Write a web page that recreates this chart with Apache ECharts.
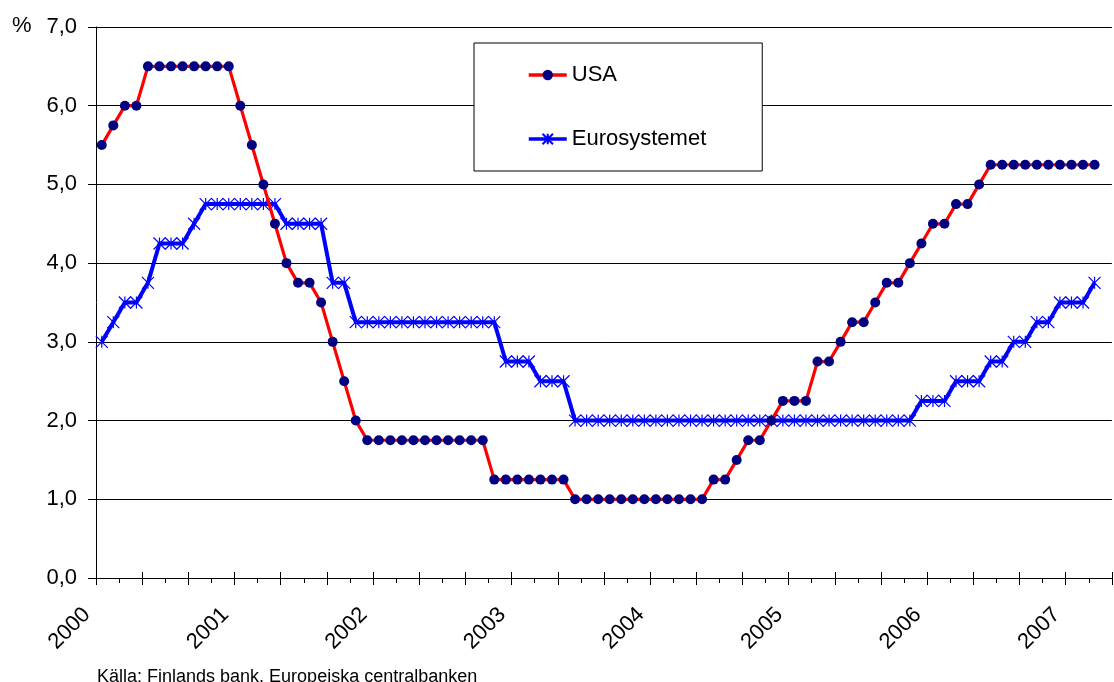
<!DOCTYPE html>
<html>
<head>
<meta charset="utf-8">
<script src="https://cdn.jsdelivr.net/npm/echarts@6/dist/echarts.min.js"></script>
<style>
html,body{margin:0;padding:0;background:#fff;}
#chart{width:1114px;height:682px;}
</style>
</head>
<body>
<div id="chart"></div>
<script>
// Monthly key policy rates, Jan 2000 – Mar 2007 (one value per month)
var years = ['2000','2001','2002','2003','2004','2005','2006','2007'];
var yLabels = ['0,0','1,0','2,0','3,0','4,0','5,0','6,0','7,0'];
var monthsOnAxis = 88;

var usa = [
  5.5, 5.75, 6.0, 6.0, 6.5, 6.5, 6.5, 6.5, 6.5, 6.5, 6.5, 6.5,
  6.0, 5.5, 5.0, 4.5, 4.0, 3.75, 3.75, 3.5, 3.0, 2.5, 2.0, 1.75,
  1.75, 1.75, 1.75, 1.75, 1.75, 1.75, 1.75, 1.75, 1.75, 1.75, 1.25, 1.25,
  1.25, 1.25, 1.25, 1.25, 1.25, 1.0, 1.0, 1.0, 1.0, 1.0, 1.0, 1.0,
  1.0, 1.0, 1.0, 1.0, 1.0, 1.25, 1.25, 1.5, 1.75, 1.75, 2.0, 2.25,
  2.25, 2.25, 2.75, 2.75, 3.0, 3.25, 3.25, 3.5, 3.75, 3.75, 4.0, 4.25,
  4.5, 4.5, 4.75, 4.75, 5.0, 5.25, 5.25, 5.25, 5.25, 5.25, 5.25, 5.25,
  5.25, 5.25, 5.25
];
var euro = [
  3.0, 3.25, 3.5, 3.5, 3.75, 4.25, 4.25, 4.25, 4.5, 4.75, 4.75, 4.75,
  4.75, 4.75, 4.75, 4.75, 4.5, 4.5, 4.5, 4.5, 3.75, 3.75, 3.25, 3.25,
  3.25, 3.25, 3.25, 3.25, 3.25, 3.25, 3.25, 3.25, 3.25, 3.25, 3.25, 2.75,
  2.75, 2.75, 2.5, 2.5, 2.5, 2.0, 2.0, 2.0, 2.0, 2.0, 2.0, 2.0,
  2.0, 2.0, 2.0, 2.0, 2.0, 2.0, 2.0, 2.0, 2.0, 2.0, 2.0, 2.0,
  2.0, 2.0, 2.0, 2.0, 2.0, 2.0, 2.0, 2.0, 2.0, 2.0, 2.0, 2.25,
  2.25, 2.25, 2.5, 2.5, 2.5, 2.75, 2.75, 3.0, 3.0, 3.25, 3.25, 3.5,
  3.5, 3.5, 3.75
];

function toPoints(arr){ return arr.map(function(v,i){ return [i + 0.5, v]; }); }

var FONT = 'Liberation Sans, Arial, sans-serif';
var chart = echarts.init(document.getElementById('chart'), null, {renderer:'canvas'});

var xCommon = {
  type: 'value', min: 0, max: monthsOnAxis, interval: 4,
  splitLine: {show:false}
};

chart.setOption({
  animation: false,
  backgroundColor: '#fff',
  grid: {left: 96, top: 27, width: 1019, height: 551, containLabel: false},
  xAxis: [
    Object.assign({}, xCommon, {
      position: 'bottom',
      axisLine: {show:true, onZero:false, lineStyle:{color:'#000', width:1}},
      axisTick: {show:true, length:7, lineStyle:{color:'#000', width:1}},
      minorTick: {show:true, splitNumber:2, length:5, lineStyle:{color:'#000', width:1}},
      axisLabel: {
        show: true, rotate: 45, margin: 24, padding: [0, 13, 0, 0],
        fontSize: 22, fontFamily: FONT, color: '#000',
        formatter: function(v){ return (v % 12 === 0 && years[v/12]) ? years[v/12] : ''; }
      }
    }),
    Object.assign({}, xCommon, {
      position: 'bottom', offset: 0,
      axisLine: {show:false},
      axisTick: {show:true, inside:true, length:6, lineStyle:{color:'#000', width:1}},
      axisLabel: {show:false}
    })
  ],
  yAxis: {
    type: 'value', min: 0, max: 7, interval: 1,
    axisLine: {show:true, lineStyle:{color:'#000', width:1}},
    axisTick: {show:true, length:8, lineStyle:{color:'#000', width:1}},
    splitLine: {show:true, lineStyle:{color:'#000', width:1}},
    axisLabel: {
      margin: 19, fontSize: 22, fontFamily: FONT, color: '#000',
      formatter: function(v){ return yLabels[Math.round(v)]; }
    }
  },
  legend: {
    left: 474, top: 43, orient: 'vertical',
    padding: [21, 56, 21, 53],
    itemGap: 42, itemWidth: 38, itemHeight: 13,
    borderColor: '#000', borderWidth: 1, backgroundColor: '#fff',
    textStyle: {fontSize: 22, fontFamily: FONT, color: '#000'},
    lineStyle: {width: 3.5},
    selectedMode: false,
    data: ['USA', 'Eurosystemet']
  },
  graphic: [
    {type:'text', left: 12, top: 15, style:{text:'%', font:'22px ' + FONT, fill:'#000'}},
    {type:'text', left: 97, top: 668, style:{text:'Källa: Finlands bank, Europeiska centralbanken', font:'18px ' + FONT, fill:'#000'}}
  ],
  series: [
    {
      name: 'Eurosystemet', type: 'line', xAxisIndex: 0,
      data: toPoints(euro),
      showSymbol: true, showAllSymbol: true,
      symbol: 'path://M0 0L10 10M10 0L0 10M5 0L5 10',
      symbolSize: 12,
      lineStyle: {color:'#0000ff', width:4},
      itemStyle: {color:'#0000ff', borderColor:'#0000ff', borderWidth:1.2},
      emphasis: {disabled:true},
      z: 2
    },
    {
      name: 'USA', type: 'line', xAxisIndex: 0,
      data: toPoints(usa),
      showSymbol: true, showAllSymbol: true,
      symbol: 'circle', symbolSize: 10,
      lineStyle: {color:'#ff0000', width:3.2},
      itemStyle: {color:'#000080', borderWidth:0},
      emphasis: {disabled:true},
      z: 3
    }
  ]
});
</script>
</body>
</html>
